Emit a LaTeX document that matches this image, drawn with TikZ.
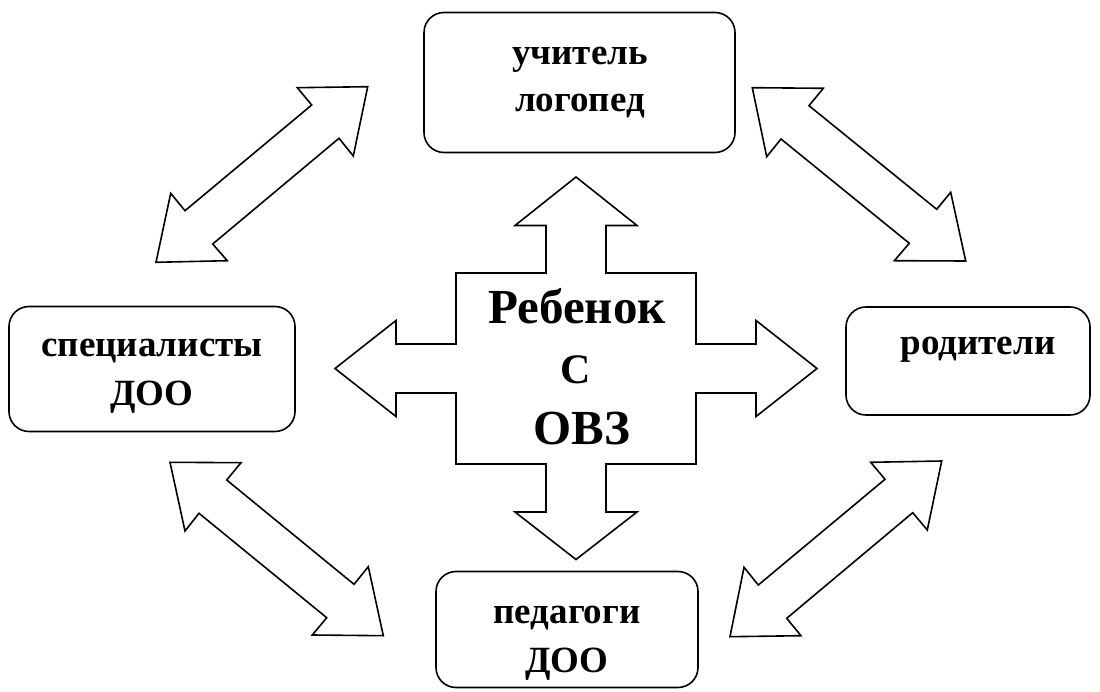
\documentclass[tikz,border=0pt]{standalone}
\usepackage{fontspec}
\setmainfont{Liberation Serif}[BoldFont={Liberation Serif Bold}]
\begin{document}
\begin{tikzpicture}[x=1pt,y=-1pt,
    box/.style={draw,line width=1.6pt,rounded corners=20pt,inner sep=0pt},
    blockarrow/.style={draw,line width=1.6pt,fill=white},
    txt/.style={anchor=base,inner sep=0pt,font=\rmfamily\bfseries\fontsize{37}{40}\selectfont},
    bigtxt/.style={anchor=base,inner sep=0pt,font=\rmfamily\bfseries\fontsize{49}{56}\selectfont}]
  \useasboundingbox (0,0) rectangle (1100,692);
  % boxes
  \node[box,minimum width=311pt,minimum height=140pt] (uchitel) at (579.5,82.5) {};
  \node[box,minimum width=286pt,minimum height=125pt] (spec) at (152,369) {};
  \node[box,minimum width=244pt,minimum height=108pt] (roditeli) at (968,361) {};
  \node[box,minimum width=262pt,minimum height=116pt] (pedagog) at (567,629.5) {};
  \node[txt] (uchitel1) at (580,65) {учитель};
  \node[txt] (uchitel2) at (580,112) {логопед};
  \node[txt] (spec1) at (152,357) {специалисты};
  \node[txt] (spec2) at (152,405) {ДОО};
  \node[txt] (roditeli1) at (978,355) {родители};
  \node[txt] (pedagog1) at (567,623) {педагоги};
  \node[txt] (pedagog2) at (567,672) {ДОО};
  % cross in the middle
  \begin{scope}[shift={(576,368.5)}]
    \draw[blockarrow] (0,-191.5) -- (61,-143) -- (30,-143) -- (30,-95.5)
      -- (120,-95.5) -- (120,-24.5) -- (180,-24.5) -- (180,-48) -- (241,0)
      -- (180,48) -- (180,24.5) -- (120,24.5) -- (120,95.5) -- (30,95.5)
      -- (30,143.5) -- (61,143.5) -- (0,191) -- (-61,143.5) -- (-30,143.5)
      -- (-30,95.5) -- (-120,95.5) -- (-120,24.5) -- (-180,24.5) -- (-180,48)
      -- (-241,0) -- (-180,-48) -- (-180,-24.5) -- (-120,-24.5) -- (-120,-95.5)
      -- (-30,-95.5) -- (-30,-143) -- (-61,-143) -- cycle;
  \end{scope}
  \node[bigtxt] (child1) at (577,324) {Ребенок};
  \node[bigtxt,font=\rmfamily\bfseries\fontsize{42}{46}\selectfont] (child2) at (575.5,383) {С};
  \node[bigtxt] (child3) at (582,444) {ОВЗ};
  % double arrows between the boxes
  \draw[blockarrow] (367.7,86.7) -- (297.3,87.7) -- (311.7,105) -- (185,210.7)
    -- (170.7,193.3) -- (156,262.3) -- (227.3,260.7) -- (212.7,244)
    -- (339,138.3) -- (353.3,156) -- cycle;
  \draw[blockarrow] (752.3,87.7) -- (823.3,88.3) -- (809,105.7) -- (936.7,209.3)
    -- (950.7,192.3) -- (965.7,261) -- (894.3,260.7) -- (909.3,243.3)
    -- (781,139) -- (766.7,156.7) -- cycle;
  \draw[blockarrow] (170,462.3) -- (241,462.7) -- (226.7,480) -- (354,584.3)
    -- (368.3,566.7) -- (383.3,635.7) -- (312.3,635) -- (326.7,617.7)
    -- (199,513.3) -- (185,531) -- cycle;
  \draw[blockarrow] (941.7,461) -- (870.7,462.3) -- (885,479.3) -- (758.3,585)
    -- (744,567.3) -- (730,636.7) -- (801,635.7) -- (786.7,618.3)
    -- (912.7,512.7) -- (927.3,530) -- cycle;
\end{tikzpicture}
\end{document}
